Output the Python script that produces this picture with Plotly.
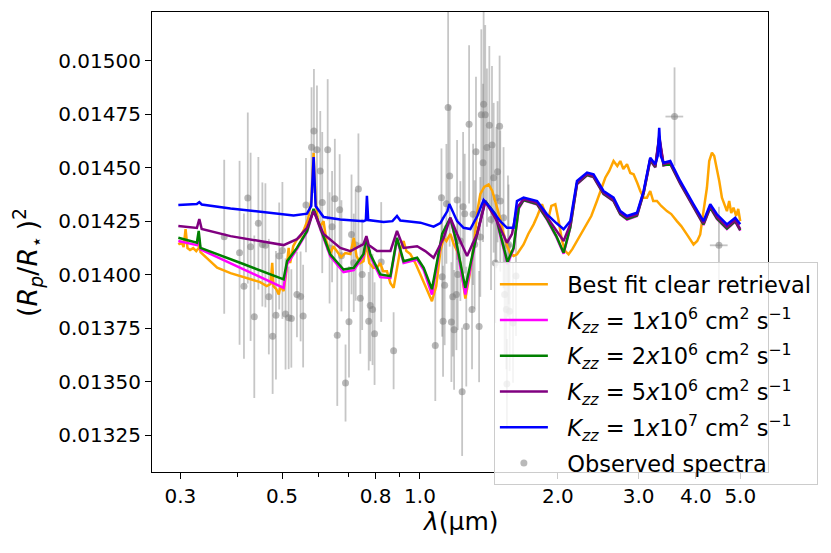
import plotly.graph_objects as go

# Observed transmission spectrum (wavelength in micron, (Rp/Rs)^2 and 1-sigma errors)
obs_wl = [0.374, 0.404, 0.413, 0.421, 0.427, 0.435, 0.444, 0.453, 0.460, 0.468,
          0.477, 0.485, 0.493, 0.501, 0.509, 0.517, 0.524, 0.539, 0.549, 0.556,
          0.564, 0.580, 0.587, 0.596, 0.606, 0.612, 0.629, 0.635, 0.643, 0.652,
          0.660, 0.668, 0.674, 0.688, 0.700, 0.709, 0.717, 0.724, 0.734, 0.741,
          0.748, 0.773, 0.779, 0.788, 0.796, 0.823, 0.876, 1.080, 1.114, 1.118,
          1.123, 1.132, 1.142, 1.152, 1.161, 1.171, 1.179, 1.187, 1.201, 1.205,
          1.209, 1.225, 1.236, 1.242, 1.252, 1.262, 1.280, 1.299, 1.306, 1.316,
          1.325, 1.346, 1.354, 1.361, 1.373, 1.377, 1.388, 1.400, 1.417, 1.429,
          1.436, 1.448, 1.468, 1.477, 1.492, 1.497, 1.522, 1.556, 1.460, 1.530,
          1.543, 1.569, 1.596, 1.548, 1.561, 1.620, 3.593, 4.491]
obs_rp = [0.014177, 0.014102, 0.013946, 0.014358, 0.014130, 0.013803, 0.014240, 0.014141, 0.014137, 0.013897,
          0.013712, 0.013810, 0.014087, 0.014113, 0.013816, 0.013798, 0.013795, 0.013907, 0.013898, 0.013806,
          0.014325, 0.014596, 0.014672, 0.014584, 0.014485, 0.014337, 0.014584, 0.014125, 0.014224, 0.014355,
          0.013716, 0.014303, 0.014088, 0.013493, 0.013779, 0.014188, 0.014055, 0.014138, 0.014400, 0.013890,
          0.014001, 0.013782, 0.013855, 0.013837, 0.013724, 0.014059, 0.013644, 0.013669, 0.014360, 0.013990,
          0.013782, 0.013950, 0.014331, 0.014781, 0.014461, 0.013778, 0.013897, 0.013742, 0.013907, 0.014349,
          0.014001, 0.014157, 0.013452, 0.014317, 0.014285, 0.013757, 0.014703, 0.013837, 0.014282, 0.014141,
          0.014575, 0.013757, 0.014176, 0.014747, 0.014523, 0.014797, 0.014747, 0.014594, 0.014699, 0.014258,
          0.014606, 0.014453, 0.014360, 0.014481, 0.014694, 0.014344, 0.014266, 0.014133, 0.014054, 0.013907,
          0.013837, 0.013829, 0.013774, 0.013489, 0.014141, 0.013993, 0.014739, 0.014137]
obs_err = [0.00036, 0.00043, 0.00034, 0.00040, 0.00044, 0.00038, 0.00031, 0.00029, 0.00029, 0.00027,
           0.00027, 0.00030, 0.00025, 0.00032, 0.00026, 0.00024, 0.00023, 0.00020, 0.00021, 0.00024,
           0.00022, 0.00028, 0.00029, 0.00030, 0.00028, 0.00033, 0.00033, 0.00026, 0.00026, 0.00028,
           0.00033, 0.00026, 0.00026, 0.00018, 0.00026, 0.00028, 0.00023, 0.00026, 0.00026, 0.00026,
           0.00026, 0.00023, 0.00026, 0.00026, 0.00024, 0.00028, 0.00018, 0.00026, 0.00023, 0.00028,
           0.00026, 0.00028, 0.00028, 0.00047, 0.00033, 0.00028, 0.00028, 0.00028, 0.00026, 0.00028,
           0.00026, 0.00028, 0.00030, 0.00035, 0.00028, 0.00028, 0.00037, 0.00028, 0.00033, 0.00030,
           0.00035, 0.00026, 0.00028, 0.00040, 0.00037, 0.00044, 0.00042, 0.00037, 0.00037, 0.00033,
           0.00037, 0.00035, 0.00033, 0.00033, 0.00033, 0.00033, 0.00033, 0.00033, 0.00028, 0.00028,
           0.00028, 0.00028, 0.00028, 0.00021, 0.00028, 0.00028, 0.00023, 0.00018]
obs_wl_err = [0.0] * 96 + [0.16, 0.20]

# Best fit clear retrieval
clear_wl = [0.297, 0.302, 0.305, 0.308, 0.311, 0.315, 0.320, 0.325, 0.329, 0.330,
            0.332, 0.349, 0.361, 0.386, 0.426, 0.448, 0.463, 0.472, 0.476, 0.479,
            0.486, 0.492, 0.496, 0.504, 0.511, 0.517, 0.521, 0.529, 0.539, 0.548,
            0.559, 0.570, 0.579, 0.586, 0.592, 0.600, 0.606, 0.616, 0.625, 0.637,
            0.647, 0.659, 0.673, 0.687, 0.705, 0.717, 0.727, 0.741, 0.753, 0.764,
            0.775, 0.791, 0.806, 0.819, 0.831, 0.847, 0.862, 0.876, 0.893, 0.906,
            0.921, 0.934, 0.953, 0.977, 1.002, 1.027, 1.062, 1.085, 1.108, 1.127,
            1.142, 1.165, 1.183, 1.205, 1.225, 1.256, 1.282, 1.310, 1.334, 1.354,
            1.381, 1.412, 1.438, 1.473, 1.497, 1.522, 1.551, 1.574, 1.600, 1.628,
            1.683, 1.723, 1.770, 1.803, 1.846, 1.876, 1.908, 1.935, 1.974, 2.004,
            2.042, 2.075, 2.110, 2.150, 2.201, 2.249, 2.315, 2.365, 2.433, 2.474,
            2.537, 2.588, 2.645, 2.695, 2.736, 2.778, 2.830, 2.877, 2.925, 2.980,
            3.025, 3.076, 3.128, 3.180, 3.228, 3.289, 3.361, 3.458, 3.534, 3.636,
            3.716, 3.823, 3.888, 3.953, 4.027, 4.088, 4.156, 4.228, 4.277, 4.336,
            4.386, 4.446, 4.498, 4.559, 4.675, 4.729, 4.777, 4.832, 4.898, 4.948,
            4.998]
clear_rp = [0.014141, 0.014152, 0.014129, 0.014213, 0.014124, 0.014115, 0.014124, 0.014110, 0.014124, 0.014147,
            0.014105, 0.014063, 0.014032, 0.014007, 0.013978, 0.013965, 0.013946, 0.013956, 0.014055, 0.013946,
            0.013932, 0.013907, 0.013946, 0.013923, 0.014016, 0.014125, 0.014054, 0.014133, 0.014165, 0.014176,
            0.014213, 0.014260, 0.014344, 0.014569, 0.014344, 0.014241, 0.014227, 0.014250, 0.014157, 0.014096,
            0.014133, 0.014110, 0.014082, 0.014101, 0.014096, 0.014172, 0.014087, 0.014054, 0.014063, 0.014147,
            0.014054, 0.014032, 0.014032, 0.014054, 0.014016, 0.014016, 0.013960, 0.013938, 0.014054, 0.014119,
            0.014157, 0.014110, 0.014096, 0.014054, 0.014001, 0.013946, 0.013876, 0.013946, 0.014110, 0.014172,
            0.014157, 0.014190, 0.014147, 0.014110, 0.014054, 0.013888, 0.013993, 0.014125, 0.014297, 0.014376,
            0.014410, 0.014422, 0.014391, 0.014313, 0.014260, 0.014190, 0.014133, 0.014101, 0.014087, 0.014095,
            0.014141, 0.014190, 0.014235, 0.014274, 0.014329, 0.014288, 0.014266, 0.014321, 0.014329, 0.014260,
            0.014157, 0.014110, 0.014095, 0.014119, 0.014157, 0.014194, 0.014235, 0.014274, 0.014344, 0.014391,
            0.014453, 0.014485, 0.014531, 0.014508, 0.014531, 0.014494, 0.014516, 0.014475, 0.014469, 0.014428,
            0.014391, 0.014360, 0.014360, 0.014391, 0.014344, 0.014344, 0.014321, 0.014297, 0.014283, 0.014250,
            0.014227, 0.014188, 0.014166, 0.014141, 0.014157, 0.014188, 0.014297, 0.014406, 0.014531, 0.014570,
            0.014555, 0.014500, 0.014438, 0.014360, 0.014297, 0.014344, 0.014288, 0.014313, 0.014274, 0.014307,
            0.014250]

# Kzz = 1e6
k1_wl = [0.297, 0.326, 0.329, 0.332, 0.409, 0.504, 0.513, 0.539, 0.567, 0.586,
         0.606, 0.637, 0.681, 0.717, 0.753, 0.764, 0.779, 0.819, 0.862, 0.891,
         0.921, 0.986, 1.019, 1.062, 1.118, 1.165, 1.195, 1.256, 1.321, 1.388,
         1.460, 1.510, 1.552, 1.600, 1.643, 1.683, 1.801, 1.893, 1.984, 2.058,
         2.128, 2.201, 2.315, 2.392, 2.515, 2.645, 2.736, 2.830, 2.975, 3.076,
         3.180, 3.261, 3.327, 3.400, 3.516, 3.697, 3.953, 4.156, 4.299, 4.446,
         4.675, 4.874, 4.998]
k1_rp = [0.014157, 0.014138, 0.014176, 0.014118, 0.014028, 0.013938, 0.014049, 0.014119, 0.014199, 0.014302,
         0.014213, 0.014087, 0.014012, 0.014021, 0.014087, 0.014166, 0.014087, 0.013988, 0.013984, 0.014166,
         0.014054, 0.014070, 0.014021, 0.013907, 0.014185, 0.014262, 0.014166, 0.013907, 0.014152, 0.014339,
         0.014276, 0.014147, 0.014049, 0.014119, 0.014309, 0.014347, 0.014328, 0.014257, 0.014176, 0.014098,
         0.014219, 0.014422, 0.014464, 0.014455, 0.014376, 0.014343, 0.014281, 0.014257, 0.014274, 0.014379,
         0.014534, 0.014501, 0.014635, 0.014510, 0.014517, 0.014424, 0.014312, 0.014232, 0.014312, 0.014260,
         0.014213, 0.014248, 0.014205]

# Kzz = 2e6
k2_wl = [0.297, 0.326, 0.329, 0.332, 0.409, 0.504, 0.513, 0.539, 0.567, 0.586,
         0.606, 0.637, 0.681, 0.717, 0.753, 0.764, 0.779, 0.819, 0.862, 0.891,
         0.921, 0.986, 1.019, 1.062, 1.118, 1.165, 1.195, 1.256, 1.321, 1.388,
         1.460, 1.510, 1.552, 1.600, 1.643, 1.683, 1.801, 1.893, 1.984, 2.058,
         2.128, 2.201, 2.315, 2.392, 2.515, 2.645, 2.736, 2.830, 2.975, 3.076,
         3.180, 3.261, 3.327, 3.400, 3.516, 3.697, 3.953, 4.156, 4.299, 4.446,
         4.675, 4.874, 4.998]
k2_rp = [0.014172, 0.014149, 0.014204, 0.014125, 0.014052, 0.013978, 0.014063, 0.014125, 0.014204, 0.014307,
         0.014219, 0.014095, 0.014024, 0.014032, 0.014096, 0.014172, 0.014096, 0.014001, 0.013993, 0.014172,
         0.014063, 0.014079, 0.014032, 0.013932, 0.014190, 0.014266, 0.014172, 0.013938, 0.014157, 0.014344,
         0.014282, 0.014157, 0.014059, 0.014125, 0.014313, 0.014349, 0.014330, 0.014260, 0.014180, 0.014102,
         0.014222, 0.014424, 0.014466, 0.014457, 0.014378, 0.014345, 0.014283, 0.014260, 0.014276, 0.014381,
         0.014536, 0.014503, 0.014640, 0.014512, 0.014519, 0.014426, 0.014315, 0.014235, 0.014315, 0.014263,
         0.014216, 0.014250, 0.014208]

# Kzz = 5e6
k5_wl = [0.297, 0.326, 0.330, 0.334, 0.386, 0.448, 0.504, 0.539, 0.567, 0.586,
         0.616, 0.670, 0.705, 0.753, 0.764, 0.773, 0.806, 0.862, 0.891, 0.921,
         0.986, 1.027, 1.071, 1.127, 1.165, 1.205, 1.267, 1.332, 1.388, 1.473,
         1.548, 1.588, 1.628, 1.683, 1.801, 1.893, 1.984, 2.058, 2.128, 2.201,
         2.315, 2.392, 2.515, 2.645, 2.736, 2.830, 2.975, 3.076, 3.180, 3.261,
         3.327, 3.400, 3.516, 3.697, 3.953, 4.156, 4.299, 4.446, 4.675, 4.874,
         4.998]
k5_rp = [0.014227, 0.014218, 0.014260, 0.014213, 0.014180, 0.014157, 0.014138, 0.014166, 0.014219, 0.014297,
         0.014190, 0.014125, 0.014110, 0.014143, 0.014180, 0.014138, 0.014110, 0.014110, 0.014204, 0.014125,
         0.014133, 0.014110, 0.014079, 0.014172, 0.014266, 0.014190, 0.014087, 0.014190, 0.014344, 0.014250,
         0.014149, 0.014190, 0.014313, 0.014353, 0.014335, 0.014269, 0.014204, 0.014157, 0.014236, 0.014428,
         0.014470, 0.014461, 0.014382, 0.014349, 0.014288, 0.014266, 0.014281, 0.014386, 0.014541, 0.014508,
         0.014648, 0.014517, 0.014524, 0.014431, 0.014321, 0.014241, 0.014321, 0.014269, 0.014222, 0.014255,
         0.014213]

# Kzz = 1e7
k10_wl = [0.297, 0.326, 0.330, 0.334, 0.386, 0.448, 0.530, 0.567, 0.579, 0.586,
          0.592, 0.616, 0.670, 0.753, 0.762, 0.766, 0.771, 0.833, 0.871, 0.891,
          0.906, 0.937, 1.002, 1.071, 1.108, 1.127, 1.148, 1.159, 1.171, 1.205,
          1.245, 1.288, 1.334, 1.377, 1.424, 1.497, 1.548, 1.600, 1.628, 1.683,
          1.801, 1.893, 1.984, 2.058, 2.128, 2.201, 2.315, 2.392, 2.515, 2.645,
          2.736, 2.830, 2.975, 3.076, 3.180, 3.261, 3.302, 3.327, 3.352, 3.400,
          3.516, 3.697, 3.953, 4.156, 4.299, 4.446, 4.675, 4.874, 4.998]
k10_rp = [0.014325, 0.014330, 0.014339, 0.014328, 0.014309, 0.014295, 0.014277, 0.014285, 0.014321, 0.014550,
          0.014321, 0.014269, 0.014258, 0.014250, 0.014255, 0.014368, 0.014255, 0.014246, 0.014250, 0.014274,
          0.014253, 0.014250, 0.014243, 0.014224, 0.014241, 0.014269, 0.014297, 0.014330, 0.014307, 0.014250,
          0.014219, 0.014213, 0.014274, 0.014349, 0.014313, 0.014250, 0.014219, 0.014219, 0.014344, 0.014360,
          0.014344, 0.014282, 0.014241, 0.014212, 0.014250, 0.014438, 0.014477, 0.014469, 0.014391, 0.014360,
          0.014297, 0.014274, 0.014289, 0.014391, 0.014547, 0.014516, 0.014555, 0.014687, 0.014555, 0.014523,
          0.014531, 0.014438, 0.014329, 0.014250, 0.014329, 0.014282, 0.014235, 0.014266, 0.014235]

# two non-breaking spaces push the legend text away from the line sample
pad = "\u00a0\u00a0"
kzz_label = pad + "<i>K</i><sub><i>zz</i></sub> = {}<i>x</i>10<sup>{}</sup> cm<sup>2</sup> s<sup>\u22121</sup>"

fig = go.Figure()

# observed spectra with error bars
fig.add_trace(go.Scatter(
    x=obs_wl, y=obs_rp, mode='markers', name=pad + 'Observed spectra',
    marker=dict(color='rgba(128,128,128,0.55)', size=7),
    error_y=dict(type='data', array=obs_err, color='rgba(128,128,128,0.45)', thickness=1.8, width=0),
    error_x=dict(type='data', array=obs_wl_err, color='rgba(128,128,128,0.45)', thickness=1.8, width=0),
    legendrank=1006, legendgroup='obs',
))

models = [
    (clear_wl, clear_rp, 'orange', pad + 'Best fit clear retrieval'),
    (k1_wl, k1_rp, 'magenta', kzz_label.format(1, 6)),
    (k2_wl, k2_rp, 'green', kzz_label.format(2, 6)),
    (k5_wl, k5_rp, 'purple', kzz_label.format(5, 6)),
    (k10_wl, k10_rp, 'blue', kzz_label.format(1, 7)),
]
for i, (wl, rp, col, lab) in enumerate(models):
    fig.add_trace(go.Scatter(
        x=wl, y=rp, mode='lines', name=lab,
        line=dict(color=col, width=2.5),
        legendrank=1000 + i, legendgroup='m%d' % i,
    ))

fig.update_xaxes(
    type='log', range=[-0.5847, 0.7594],
    tickvals=[0.3, 0.5, 0.8, 1.0, 2.0, 3.0, 4.0, 5.0],
    ticktext=['0.3', '0.5', '0.8', '1.0', '2.0', '3.0', '4.0', '5.0'],
    minor=dict(tickvals=[0.4, 0.6, 0.7, 0.9], ticks='outside', ticklen=4, tickwidth=1, tickcolor='black'),
    ticks='outside', ticklen=6, tickwidth=1.2, tickcolor='black',
    showline=True, linecolor='black', linewidth=1.2, mirror=True,
    showgrid=False, zeroline=False, automargin=False,
    tickfont=dict(size=20, color='black'),
)
fig.update_yaxes(
    range=[0.013077, 0.015228],
    tickvals=[0.01325, 0.0135, 0.01375, 0.014, 0.01425, 0.0145, 0.01475, 0.015],
    tickformat='.5f',
    ticks='outside', ticklen=6, tickwidth=1.2, tickcolor='black',
    showline=True, linecolor='black', linewidth=1.2, mirror=True,
    showgrid=False, zeroline=False, automargin=False,
    tickfont=dict(size=20, color='black'),
)

# axis titles as annotations so they sit where the reference has them
fig.add_annotation(
    text='<i>λ</i>(μm)', xref='paper', yref='paper', x=0.5, y=-0.108,
    xanchor='center', yanchor='middle', showarrow=False,
    font=dict(size=25, color='black'),
)
fig.add_annotation(
    text='(<i>R</i><sub><i>p</i></sub>/<i>R</i><sub>\u22c6</sub>\u2009)<sup>2</sup>',
    xref='paper', yref='paper', x=-0.203, y=0.4565, textangle=-90,
    xanchor='center', yanchor='middle', showarrow=False,
    font=dict(size=27, color='black'),
)

fig.update_layout(
    width=823, height=545,
    margin=dict(l=144, r=63, t=4, b=81),
    plot_bgcolor='white', paper_bgcolor='white',
    font=dict(family='DejaVu Sans', color='black'),
    legend=dict(
        x=0.555, y=0.4565, xanchor='left', yanchor='top',
        bgcolor='rgba(255,255,255,0.8)', bordercolor='#cccccc', borderwidth=1,
        font=dict(size=22.5, color='black'), itemwidth=48, tracegroupgap=3.5,
    ),
    showlegend=True,
)

fig.write_html("out.html")
